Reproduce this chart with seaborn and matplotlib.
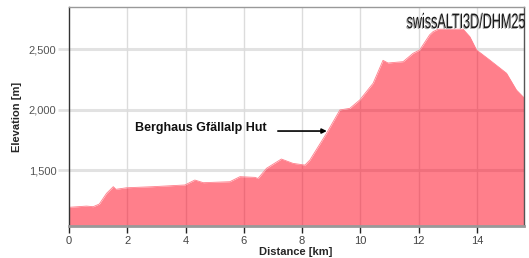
import matplotlib
matplotlib.use("Agg")
import matplotlib.pyplot as plt
import seaborn as sns
import pandas as pd
from matplotlib.textpath import TextPath
from matplotlib.patches import PathPatch
from matplotlib.font_manager import FontProperties
from matplotlib.transforms import Affine2D

# Elevation profile
distance_km = [0.0, 0.37, 0.6, 0.83, 1.04, 1.29, 1.52, 1.61, 1.98, 2.89, 3.98, 4.32, 4.61,
               5.52, 5.87, 6.38, 6.49, 6.78, 7.29, 7.69, 8.10, 8.27, 8.84, 9.30, 9.64, 9.98,
               10.44, 10.78, 10.95, 11.47, 11.81, 12.04, 12.38, 12.50, 12.67, 13.53, 13.76,
               13.99, 14.44, 15.02, 15.36, 15.64]
elevation_m = [1191, 1197, 1201, 1196, 1218, 1307, 1362, 1340, 1353, 1362, 1376, 1417, 1395,
               1403, 1445, 1439, 1430, 1514, 1591, 1555, 1541, 1583, 1804, 1998, 2011, 2080,
               2219, 2409, 2387, 2398, 2467, 2495, 2620, 2647, 2667, 2667, 2605,
               2495, 2412, 2302, 2163, 2094]
x_ticks = [0, 2, 4, 6, 8, 10, 12, 14]
y_ticks = [1500, 2000, 2500]
y_tick_labels = ["1,500", "2,000", "2,500"]
poi_label = "Berghaus Gfällalp Hut"
poi_distance = 8.85
poi_elevation = 1823
source_label = "swissALTI3D/DHM25"

df = pd.DataFrame({"Distance [km]": distance_km, "Elevation [m]": elevation_m})

sns.set_theme(style="white")
plt.rcParams['font.family'] = ['Liberation Sans', 'DejaVu Sans']

W, H = 529, 258
fig = plt.figure(figsize=(W / 100, H / 100), dpi=100)
ax = fig.add_axes([69 / W, 32 / H, 455 / W, 219 / H])

x_min, x_max = 0, 15.62
y_min, y_max = 1036, 2851
ax.set_xlim(x_min, x_max)
ax.set_ylim(y_min, y_max)

# grid
for yt in y_ticks:
    ax.axhline(yt, color="#e2e2e2", lw=2.2, zorder=0)
for xt in x_ticks[1:]:
    ax.axvline(xt, color="#dcdcdc", lw=1.0, zorder=0)

sns.lineplot(data=df, x="Distance [km]", y="Elevation [m]", ax=ax,
             color="#ff7f8c", lw=0.6, zorder=2)
ax.fill_between(df["Distance [km]"], df["Elevation [m]"], y_min,
                color="#ff0019", alpha=0.5, lw=0, zorder=1)

ax.set_xticks(x_ticks)
ax.set_yticks(y_ticks)
ax.set_yticklabels(y_tick_labels)
ax.tick_params(axis="x", length=5, width=1, color="#222222", labelsize=8,
               labelcolor="#444444", pad=2, bottom=True)
ax.tick_params(axis="y", length=8, width=2, color="#e2e2e2", labelsize=8,
               labelcolor="#555555", pad=1, left=True)

ax.set_xlabel("Distance [km]", fontsize=8, fontweight="bold")
ax.set_ylabel("Elevation [m]", fontsize=8, fontweight="bold")
ax.xaxis.set_label_coords((296 - 69) / 455, -(252 - 226) / 219)
ax.yaxis.set_label_coords(-(69 - 17) / 455, 0.5)
ax.xaxis.label.set_va("center")
ax.yaxis.label.set_va("center")

for side, col, lw in [("left", "#333333", 1.0), ("bottom", "#999999", 2.0),
                      ("top", "#999999", 1.0), ("right", "#555555", 1.0)]:
    ax.spines[side].set_visible(True)
    ax.spines[side].set_color(col)
    ax.spines[side].set_linewidth(lw)
    ax.spines[side].set_zorder(5)

# annotation
ax.annotate("", xy=(poi_distance, poi_elevation), xytext=(7.17, poi_elevation),
            arrowprops=dict(arrowstyle="-|>", color="black", lw=1.2,
                            mutation_scale=7, shrinkA=0, shrinkB=0), zorder=6)
ax.text(2.26, 1850, poi_label, fontsize=9, fontweight="bold", color="#111111",
        va="center", ha="left", zorder=6)

# source watermark (condensed lettering)
fp = FontProperties(family="Liberation Sans")
tp = TextPath((0, 0), source_label, size=1, prop=fp)
bb = tp.get_extents()
target_w, cap_h = 118, 15
sx = target_w / bb.width
sy = cap_h / 0.716
x0 = 525 - target_w - bb.x0 * sx
y0 = H - 28
for dx, dy, col, a, z in [(-1.0, -1.0, "#9a9a9a", 0.8, 7), (0, 0, "#1a1a1a", 1.0, 8)]:
    tr = Affine2D().scale(sx / W, sy / H).translate((x0 + dx) / W, (y0 + dy) / H) + fig.transFigure
    fig.add_artist(PathPatch(tp, transform=tr, facecolor=col, edgecolor="none", alpha=a, zorder=z))

fig.savefig("out.png", dpi=100)
